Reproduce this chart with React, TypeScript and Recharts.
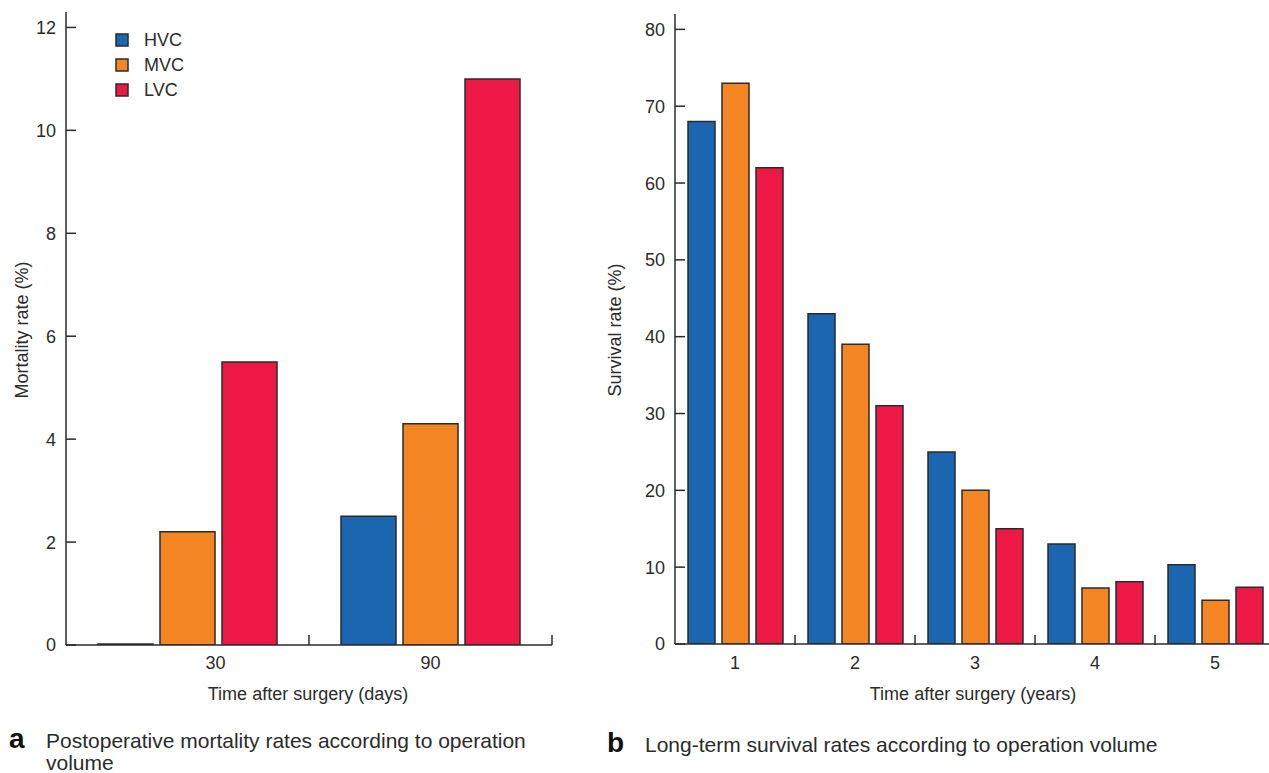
import { Bar, BarChart, Legend, XAxis, YAxis } from 'recharts'

const mortalityDays = ['30', '90']
const mortalityHVC = [0, 2.5]
const mortalityMVC = [2.2, 4.3]
const mortalityLVC = [5.5, 11]
const mortalityTicks = [0, 2, 4, 6, 8, 10, 12]

const survivalYears = ['1', '2', '3', '4', '5']
const survivalHVC = [68, 43, 25, 13, 10.3]
const survivalMVC = [73, 39, 20, 7.3, 5.7]
const survivalLVC = [62, 31, 15, 8.1, 7.4]
const survivalTicks = [0, 10, 20, 30, 40, 50, 60, 70, 80]

const groups = ['HVC', 'MVC', 'LVC']

const INK = '#2b2b2b'
const FONT = '"Liberation Sans", Arial, Helvetica, sans-serif'
const COLORS = { HVC: '#1a66b1', MVC: '#f38522', LVC: '#ee1847' }

const mortalityData = mortalityDays.map((label, i) => ({
  label,
  HVC: mortalityHVC[i],
  MVC: mortalityMVC[i],
  LVC: mortalityLVC[i],
}))

const survivalData = survivalYears.map((label, i) => ({
  label,
  HVC: survivalHVC[i],
  MVC: survivalMVC[i],
  LVC: survivalLVC[i],
}))

function YTick({ x, y, payload }: any) {
  // tickMargin is 10, so the axis line sits at x + 10; ticks point inward
  return (
    <g>
      <line x1={x + 10} x2={x + 20} y1={y} y2={y} stroke={INK} strokeWidth={1.5} />
      <text x={x} y={y} dy="0.36em" textAnchor="end" fill={INK} fontSize={18} fontFamily={FONT}>
        {payload.value}
      </text>
    </g>
  )
}

function XTick({ x, y, payload, index, half, shift }: any) {
  const h = payload.offset || half
  const axisY = y - 11
  return (
    <g>
      <line x1={x + h} x2={x + h} y1={axisY} y2={axisY - 10} stroke={INK} strokeWidth={1.5} />
      <text
        x={x + (shift?.[index] ?? 0)}
        y={y}
        dy="0.71em"
        textAnchor="middle"
        fill={INK}
        fontSize={18}
        fontFamily={FONT}
      >
        {payload.value}
      </text>
    </g>
  )
}

function LegendBox({ payload }: any) {
  const items = [...(payload || [])].sort(
    (a: any, b: any) => groups.indexOf(a.value) - groups.indexOf(b.value),
  )
  return (
    <svg width={110} height={76} style={{ overflow: 'visible' }}>
      {items.map((p: any, i: number) => (
        <g key={p.value}>
          <rect x={1} y={1 + i * 25} width={12} height={12} fill={p.color} stroke={INK} strokeWidth={1.5} />
          <text x={29} y={13 + i * 25} fontSize={18} fill={INK} fontFamily={FONT}>
            {p.value}
          </text>
        </g>
      ))}
    </svg>
  )
}

const barStyle = { stroke: INK, strokeWidth: 1.5 }

export default function App() {
  return (
    <div
      style={{
        position: 'absolute',
        left: 0,
        top: 0,
        width: 1269,
        height: 773,
        overflow: 'hidden',
        background: '#fff',
        fontFamily: FONT,
      }}
    >
      <div style={{ position: 'absolute', left: 0, top: 0 }}>
        <BarChart
          width={560}
          height={773}
          data={mortalityData}
          margin={{ top: 12, right: 8, bottom: 0, left: 0 }}
          barCategoryGap={32}
          barGap={7}
        >
          <XAxis
            dataKey="label"
            height={128}
            axisLine={{ stroke: INK, strokeWidth: 1.5 }}
            tickLine={false}
            tickSize={0}
            tickMargin={11}
            interval={0}
            tick={(props: any) => <XTick {...props} half={121.5} shift={[28, 0]} />}
          />
          <YAxis
            width={66}
            domain={[0, 12.3]}
            ticks={mortalityTicks}
            allowDataOverflow
            axisLine={{ stroke: INK, strokeWidth: 1.5 }}
            tickLine={false}
            tickSize={0}
            tickMargin={10}
            tick={(props: any) => <YTick {...props} />}
          />
          <Legend
            layout="vertical"
            align="center"
            verticalAlign="middle"
            content={(props: any) => <LegendBox {...props} />}
            wrapperStyle={{ left: 115, top: 33, width: 110, bottom: 'auto' }}
          />
          <Bar dataKey="HVC" name="HVC" fill={COLORS.HVC} {...barStyle} minPointSize={1} isAnimationActive={false} />
          <Bar dataKey="MVC" name="MVC" fill={COLORS.MVC} {...barStyle} isAnimationActive={false} />
          <Bar dataKey="LVC" name="LVC" fill={COLORS.LVC} {...barStyle} isAnimationActive={false} />
        </BarChart>
      </div>

      <div style={{ position: 'absolute', left: 600, top: 0 }}>
        <BarChart
          width={680}
          height={773}
          data={survivalData}
          margin={{ top: 14, right: 5, bottom: 0, left: 0 }}
          barCategoryGap={13}
          barGap={7}
        >
          <XAxis
            dataKey="label"
            height={129}
            axisLine={{ stroke: INK, strokeWidth: 1.5 }}
            tickLine={false}
            tickSize={0}
            tickMargin={12}
            interval={0}
            tick={(props: any) => <XTick {...props} half={60} />}
          />
          <YAxis
            width={75}
            domain={[0, 82]}
            ticks={survivalTicks}
            allowDataOverflow
            axisLine={{ stroke: INK, strokeWidth: 1.5 }}
            tickLine={false}
            tickSize={0}
            tickMargin={10}
            tick={(props: any) => <YTick {...props} />}
          />
          <Bar dataKey="HVC" name="HVC" fill={COLORS.HVC} {...barStyle} isAnimationActive={false} />
          <Bar dataKey="MVC" name="MVC" fill={COLORS.MVC} {...barStyle} isAnimationActive={false} />
          <Bar dataKey="LVC" name="LVC" fill={COLORS.LVC} {...barStyle} isAnimationActive={false} />
        </BarChart>
      </div>

      <svg
        width={1269}
        height={773}
        style={{ position: 'absolute', left: 0, top: 0, pointerEvents: 'none' }}
        fontFamily={FONT}
        fill={INK}
      >
        <text x={28} y={330} transform="rotate(-90 28 330)" textAnchor="middle" fontSize={18}>
          Mortality rate (%)
        </text>
        <text x={621} y={330} transform="rotate(-90 621 330)" textAnchor="middle" fontSize={18}>
          Survival rate (%)
        </text>
        <text x={308} y={700} textAnchor="middle" fontSize={18}>
          Time after surgery (days)
        </text>
        <text x={973} y={700} textAnchor="middle" fontSize={18}>
          Time after surgery (years)
        </text>

        <text x={9} y={748} fontSize={28} fontWeight="bold" fill="#111">
          a
        </text>
        <text x={46} y={748} fontSize={21}>
          Postoperative mortality rates according to operation
        </text>
        <text x={46} y={770} fontSize={21}>
          volume
        </text>

        <text x={607} y={752} fontSize={28} fontWeight="bold" fill="#111">
          b
        </text>
        <text x={645} y={752} fontSize={21}>
          Long-term survival rates according to operation volume
        </text>
      </svg>
    </div>
  )
}
